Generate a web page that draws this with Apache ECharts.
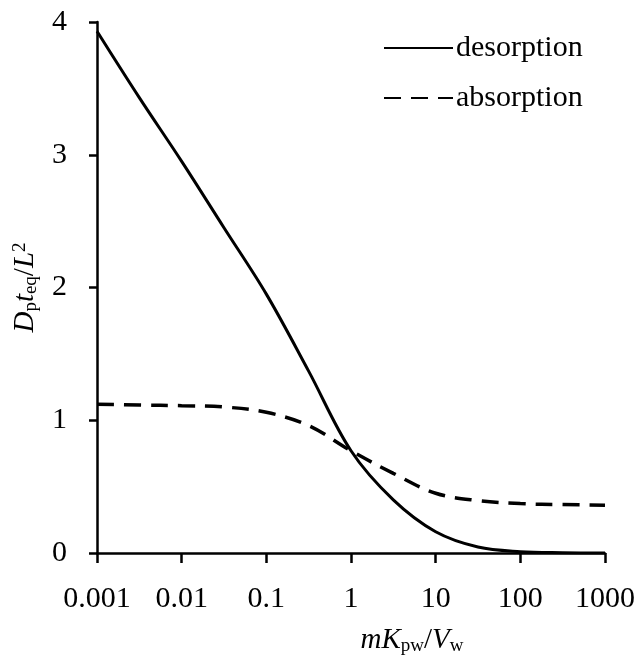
<!DOCTYPE html>
<html>
<head>
<meta charset="utf-8">
<script src="https://cdn.jsdelivr.net/npm/echarts@6/dist/echarts.min.js"></script>
<style>
  html, body { margin: 0; padding: 0; background: #fff; }
  #chart { width: 641px; height: 657px; }
</style>
</head>
<body>
<div id="chart"></div>
<script>
// values
var xValues = [0.001, 0.00316, 0.01, 0.0316, 0.1, 0.316, 1, 3.16, 10, 31.6, 100, 316, 1000];
var desorption = [3.93, 3.43, 2.95, 2.45, 1.95, 1.37, 0.77, 0.40, 0.16, 0.045, 0.01, 0.002, 0];
var absorption = [1.12, 1.115, 1.11, 1.10, 1.06, 0.96, 0.77, 0.60, 0.45, 0.395, 0.372, 0.365, 0.36];
var xTicks = [0.001, 0.01, 0.1, 1, 10, 100, 1000];
var yTicks = [0, 1, 2, 3, 4];

var font = '"Liberation Serif", serif';

function pairs(ys) {
  return xValues.map(function (x, i) { return [x, ys[i]]; });
}

var nameRich = {
  i: { fontFamily: font, fontStyle: 'italic', fontSize: 29, lineHeight: 30, verticalAlign: 'top', color: '#000' },
  n: { fontFamily: font, fontSize: 29, lineHeight: 30, verticalAlign: 'top', color: '#000' },
  s: { fontFamily: font, fontSize: 19, lineHeight: 18, padding: [18, 0, 0, 0], verticalAlign: 'bottom', color: '#000' },
  u: { fontFamily: font, fontSize: 19, lineHeight: 18, verticalAlign: 'top', color: '#000' }
};

var myChart = echarts.init(document.getElementById('chart'));
var option = {
  animation: false,
  backgroundColor: '#fff',
  grid: { left: 97, right: 36, top: 22, bottom: 104, outerBoundsMode: 'none' },
  legend: {
    orient: 'vertical',
    left: 378,
    top: 28,
    itemWidth: 69,
    itemHeight: 14,
    itemGap: 20,
    itemStyle: { opacity: 0 },
    textStyle: { fontFamily: font, fontSize: 30, lineHeight: 30, color: '#000', padding: [0, 0, 0, -2] },
    data: ['desorption', 'absorption']
  },
  xAxis: {
    type: 'log',
    logBase: 10,
    min: 0.001,
    max: 1000,
    name: '{i|m}{i|K}{s|pw}{n|/}{i|V}{s|w}',
    nameLocation: 'middle',
    nameGap: 68,
    nameTextStyle: { rich: nameRich, padding: [0, 0, 0, 122] },
    axisLine: { lineStyle: { color: '#000', width: 2.5 } },
    axisTick: { show: true, length: 10, lineStyle: { color: '#000', width: 2.5 } },
    minorTick: { show: false },
    splitLine: { show: false },
    axisLabel: {
      margin: 31,
      fontFamily: font,
      fontSize: 30,
      color: '#000',
      formatter: function (v) {
        var best = xTicks.reduce(function (a, b) {
          return Math.abs(Math.log10(b) - Math.log10(v)) < Math.abs(Math.log10(a) - Math.log10(v)) ? b : a;
        });
        return String(best);
      }
    }
  },
  yAxis: {
    type: 'value',
    min: yTicks[0],
    max: yTicks[yTicks.length - 1],
    interval: 1,
    name: '{i|D}{s|p}{i|t}{s|eq}{n|/}{i|L}{u|2}',
    nameLocation: 'middle',
    nameGap: 56,
    nameTextStyle: { rich: nameRich },
    axisLine: { show: true, lineStyle: { color: '#000', width: 2.5 } },
    axisTick: { show: true, length: 8, lineStyle: { color: '#000', width: 2.5 } },
    splitLine: { show: false },
    axisLabel: { margin: 30, fontFamily: font, fontSize: 30, color: '#000' }
  },
  series: [
    {
      name: 'desorption',
      type: 'line',
      symbol: 'none',
      smooth: 0.35,
      data: pairs(desorption),
      lineStyle: { color: '#000', width: 3 },
      itemStyle: { color: '#000' }
    },
    {
      name: 'absorption',
      type: 'line',
      symbol: 'none',
      smooth: 0.35,
      data: pairs(absorption),
      lineStyle: { color: '#000', width: 3.5, type: [17, 10] },
      itemStyle: { color: '#000' }
    }
  ]
};
myChart.setOption(option);
window.addEventListener('resize', function () {
  myChart.resize();
});
</script>
</body>
</html>
